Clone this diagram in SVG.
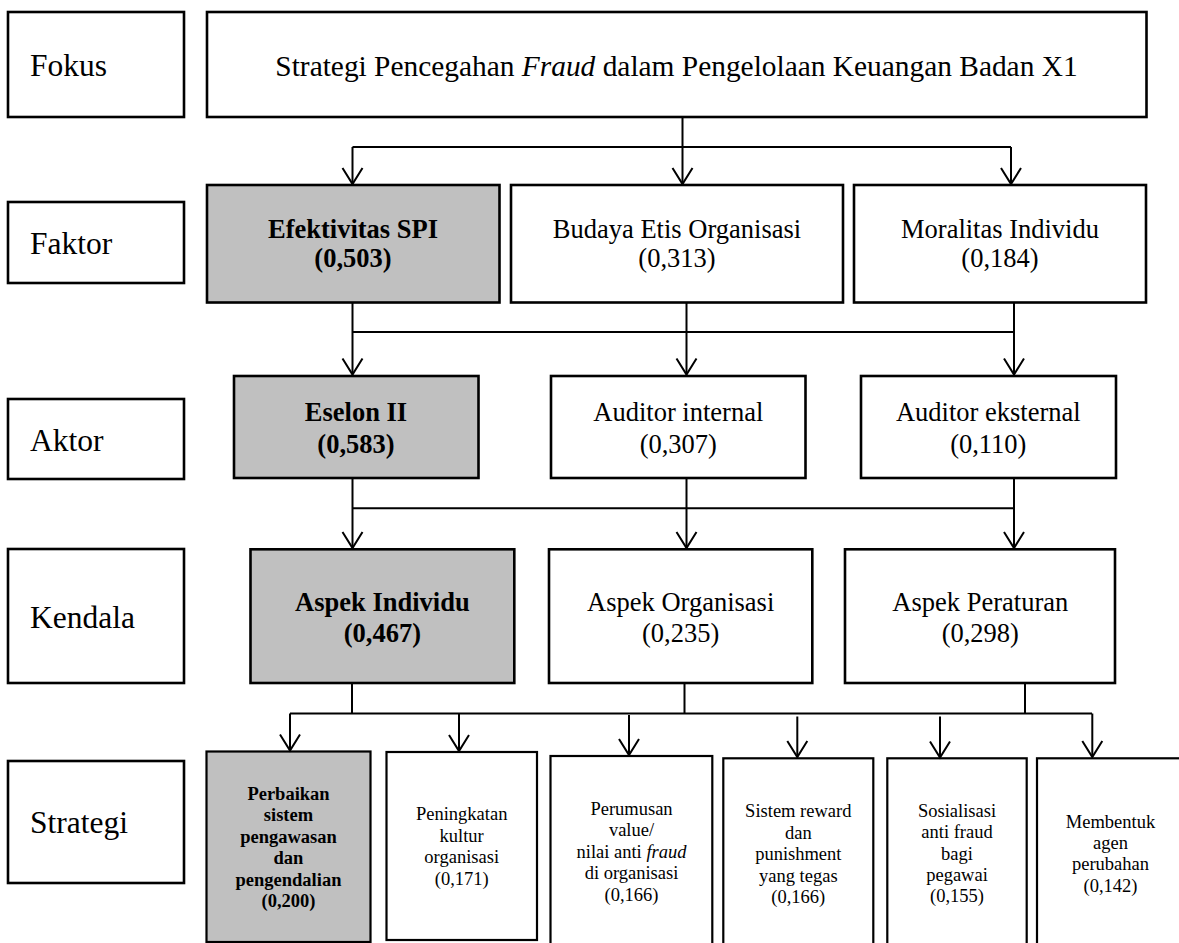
<svg xmlns="http://www.w3.org/2000/svg" width="1179" height="943" viewBox="0 0 1179 943" font-family="'Liberation Serif', 'DejaVu Serif', serif">
<style>
.box{fill:#fff;stroke:#000;stroke-width:2.6}
.hl{fill:#c0c0c0;stroke:#000;stroke-width:2.6}
.sbox{fill:#fff;stroke:#000;stroke-width:2.2}
.shl{fill:#c0c0c0;stroke:#000;stroke-width:2.2}
text{font-family:'Liberation Serif','DejaVu Serif',serif;fill:#000}
.lbl{font-size:31.5px}
.ttl{font-size:29.4px;text-anchor:middle}
.t{font-size:26.5px;text-anchor:middle}
.tb{font-size:26.5px;text-anchor:middle;font-weight:bold}
.s{font-size:18.5px;text-anchor:middle}
.sb{font-size:18.5px;text-anchor:middle;font-weight:bold}
.c{fill:none;stroke:#000;stroke-width:2}
</style>
<defs>
<marker id="arr" markerUnits="userSpaceOnUse" markerWidth="20" markerHeight="24" viewBox="-1 -1 20 24" refX="17" refY="11" orient="auto" overflow="visible">
<path d="M1,1 L17,11 L1,21" fill="none" stroke="#000" stroke-width="2"/>
</marker>
</defs>

<g id="label-fokus"><rect class="box" x="8" y="12" width="176" height="105"/><text class="lbl" x="30" y="76">Fokus</text></g>
<g id="label-faktor"><rect class="box" x="8" y="202" width="176" height="81"/><text class="lbl" x="30" y="254">Faktor</text></g>
<g id="label-aktor"><rect class="box" x="8" y="399" width="176" height="80"/><text class="lbl" x="30" y="451">Aktor</text></g>
<g id="label-kendala"><rect class="box" x="8" y="549" width="176" height="134"/><text class="lbl" x="30" y="628">Kendala</text></g>
<g id="label-strategi"><rect class="box" x="8" y="761" width="176" height="122"/><text class="lbl" x="30" y="833">Strategi</text></g>

<g id="fokus"><rect class="box" x="207" y="12" width="939.5" height="105"/><text class="ttl" x="676.5" y="76">Strategi Pencegahan <tspan font-style="italic">Fraud</tspan> dalam Pengelolaan Keuangan Badan X1</text></g>

<g id="f-spi"><rect class="hl" x="207" y="185" width="292.5" height="117.5"/><text class="tb" x="353" y="237.5">Efektivitas SPI</text><text class="tb" x="353" y="267">(0,503)</text></g>
<g id="f-budaya"><rect class="box" x="511" y="185" width="332" height="117.5"/><text class="t" x="677" y="237.5">Budaya Etis Organisasi</text><text class="t" x="677" y="267">(0,313)</text></g>
<g id="f-moral"><rect class="box" x="854" y="185" width="292" height="117.5"/><text class="t" x="1000" y="237.5">Moralitas Individu</text><text class="t" x="1000" y="267">(0,184)</text></g>

<g id="a-eselon"><rect class="hl" x="234" y="376" width="244.5" height="102"/><text class="tb" x="356" y="421">Eselon II</text><text class="tb" x="356" y="452.5">(0,583)</text></g>
<g id="a-internal"><rect class="box" x="551" y="376" width="254.5" height="102"/><text class="t" x="678.3" y="421">Auditor internal</text><text class="t" x="678.3" y="452.5">(0,307)</text></g>
<g id="a-eksternal"><rect class="box" x="861" y="376" width="255" height="102"/><text class="t" x="988.3" y="421">Auditor eksternal</text><text class="t" x="988.3" y="452.5">(0,110)</text></g>

<g id="k-individu"><rect class="hl" x="250.5" y="549.3" width="263.8" height="133.7"/><text class="tb" x="382.4" y="610.5">Aspek Individu</text><text class="tb" x="382.4" y="641.5">(0,467)</text></g>
<g id="k-organisasi"><rect class="box" x="549" y="549.3" width="263.3" height="133.7"/><text class="t" x="680.7" y="610.5">Aspek Organisasi</text><text class="t" x="680.7" y="641.5">(0,235)</text></g>
<g id="k-peraturan"><rect class="box" x="845" y="549.3" width="270" height="133.7"/><text class="t" x="980.3" y="610.5">Aspek Peraturan</text><text class="t" x="980.3" y="641.5">(0,298)</text></g>

<g id="s-perbaikan"><rect class="shl" x="206.5" y="751.5" width="164" height="190.5"/>
<text class="sb" x="288.5" y="800">Perbaikan</text><text class="sb" x="288.5" y="821.3">sistem</text><text class="sb" x="288.5" y="842.7">pengawasan</text><text class="sb" x="288.5" y="864.2">dan</text><text class="sb" x="288.5" y="885.6">pengendalian</text><text class="sb" x="288.5" y="907">(0,200)</text></g>
<g id="s-peningkatan"><rect class="sbox" x="386.5" y="752" width="150.5" height="188"/>
<text class="s" x="461.7" y="820">Peningkatan</text><text class="s" x="461.7" y="841.6">kultur</text><text class="s" x="461.7" y="863.2">organisasi</text><text class="s" x="461.7" y="884.8">(0,171)</text></g>
<g id="s-perumusan"><rect class="sbox" x="550.5" y="756" width="161.8" height="195"/>
<text class="s" x="631.5" y="815">Perumusan</text><text class="s" x="631.5" y="836.4">value/</text><text class="s" x="631.5" y="857.8">nilai anti <tspan font-style="italic">fraud</tspan></text><text class="s" x="631.5" y="879.2">di organisasi</text><text class="s" x="631.5" y="900.6">(0,166)</text></g>
<g id="s-reward"><rect class="sbox" x="723.3" y="758.3" width="150" height="195"/>
<text class="s" x="798.3" y="817.3">Sistem reward</text><text class="s" x="798.3" y="838.7">dan</text><text class="s" x="798.3" y="860.1">punishment</text><text class="s" x="798.3" y="881.5">yang tegas</text><text class="s" x="798.3" y="902.9">(0,166)</text></g>
<g id="s-sosialisasi"><rect class="sbox" x="887.3" y="758.3" width="139.4" height="195"/>
<text class="s" x="957" y="816.7">Sosialisasi</text><text class="s" x="957" y="838.1">anti fraud</text><text class="s" x="957" y="859.5">bagi</text><text class="s" x="957" y="880.9">pegawai</text><text class="s" x="957" y="902.3">(0,155)</text></g>
<g id="s-agen"><rect class="sbox" x="1037" y="758.3" width="147" height="195"/>
<text class="s" x="1110.5" y="827.5">Membentuk</text><text class="s" x="1110.5" y="848.9">agen</text><text class="s" x="1110.5" y="870.3">perubahan</text><text class="s" x="1110.5" y="891.7">(0,142)</text></g>

<g id="connectors">
<path class="c" d="M682.5,117 V147 M352.5,147 H1011"/>
<path class="c" d="M352.5,147 V184" marker-end="url(#arr)"/>
<path class="c" d="M682.5,147 V184" marker-end="url(#arr)"/>
<path class="c" d="M1011,147 V184" marker-end="url(#arr)"/>

<path class="c" d="M352.5,332 H1014"/>
<path class="c" d="M352.5,302.5 V374.5" marker-end="url(#arr)"/>
<path class="c" d="M686.5,302.5 V374.5" marker-end="url(#arr)"/>
<path class="c" d="M1014,302.5 V374.5" marker-end="url(#arr)"/>

<path class="c" d="M352.5,508.3 H1014"/>
<path class="c" d="M352.5,478 V548" marker-end="url(#arr)"/>
<path class="c" d="M686.5,478 V548" marker-end="url(#arr)"/>
<path class="c" d="M1014,478 V548" marker-end="url(#arr)"/>

<path class="c" d="M352,683 V713.5 M684.5,683 V713.5 M1025,683 V713.5 M290,713.5 H1092"/>
<path class="c" d="M290,713.5 V750.5" marker-end="url(#arr)"/>
<path class="c" d="M459,713.5 V751" marker-end="url(#arr)"/>
<path class="c" d="M629,715 V755" marker-end="url(#arr)"/>
<path class="c" d="M797.3,716.5 V757" marker-end="url(#arr)"/>
<path class="c" d="M940,716.5 V757.5" marker-end="url(#arr)"/>
<path class="c" d="M1092.3,713.5 V757" marker-end="url(#arr)"/>
</g>
</svg>
